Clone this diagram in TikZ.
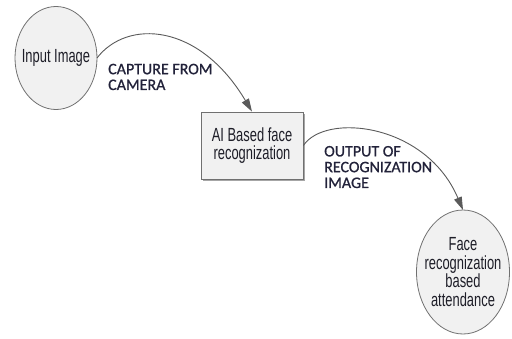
\documentclass[tikz,border=0pt]{standalone}
\usepackage{fontspec}
\setmainfont{Liberation Sans}
\newfontfamily\narrowfont[FakeStretch=0.68]{Liberation Sans}
\newfontfamily\labelfont[FakeBold=0.9]{Carlito}
\usetikzlibrary{arrows.meta,shadows,shapes.geometric}
\definecolor{edgegray}{HTML}{707070}
\definecolor{fillgray}{HTML}{F1F1F1}
\definecolor{linegray}{HTML}{5A5A5A}
\definecolor{txt}{HTML}{1E1E28}
\definecolor{lbltxt}{HTML}{22223A}
\tikzset{
  nodetext/.style={font=\narrowfont\fontsize{19}{18.5}\selectfont, text=txt, align=center},
  ellnode/.style={ellipse, draw=edgegray, fill=fillgray, line width=0.8pt, inner sep=0pt, outer sep=0pt},
  boxnode/.style={rectangle, draw=edgegray, fill=fillgray, line width=0.8pt, inner sep=0pt,
    minimum width=102pt, minimum height=67pt,
    drop shadow={shadow xshift=1.6pt, shadow yshift=-1.6pt, fill=gray!70, opacity=1},
    nodetext},
  lbl/.style={font=\labelfont\fontsize{16}{15.8}\selectfont, text=lbltxt, align=left, anchor=base west, inner sep=0pt},
  conn/.style={draw=linegray, line width=0.9pt, -{Triangle[length=13pt,width=8pt]}, color=linegray}
}
\begin{document}
\begin{tikzpicture}[x=1pt,y=1pt]
\useasboundingbox (0,0) rectangle (512,338);
\node[ellnode, minimum width=82pt, minimum height=103pt,
  label={[nodetext]center:Input Image}] (in) at (56,280) {};
\node[boxnode] (ai) at (252,192.5) {AI Based face\\recognization};
\node[ellnode, minimum width=93pt, minimum height=124pt,
  label={[nodetext]center:Face\\recognization\\based\\attendance}] (out) at (463,66) {};
\node[lbl] (l1) at (108,248) {CAPTURE FROM\\CAMERA};
\node[lbl] (l2) at (324,150) {OUTPUT OF\\RECOGNIZATION\\IMAGE};
\draw[conn] (in.east) .. controls +(30,39) and +(-53,89) .. (ai.north);
\draw[conn] (ai.east) .. controls +(22,33) and +(-37,87) .. (out.north);
\end{tikzpicture}
\end{document}
